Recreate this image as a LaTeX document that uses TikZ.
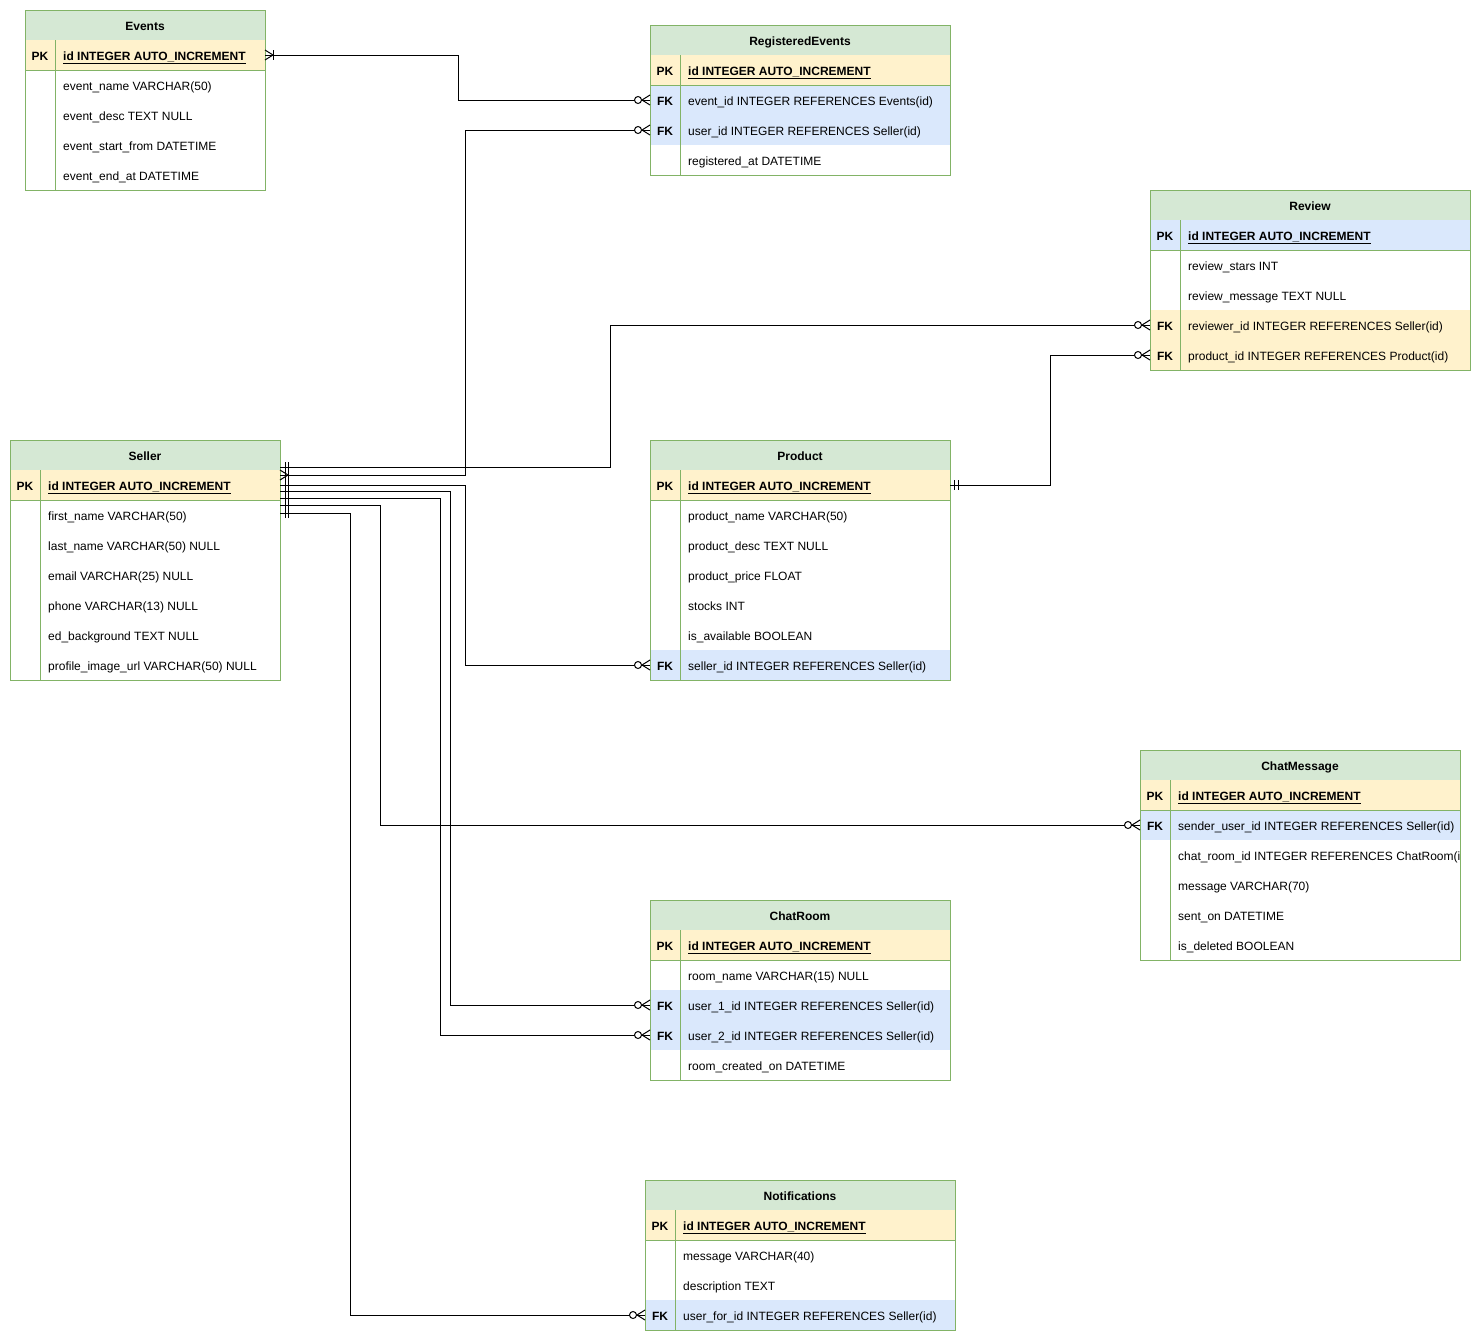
\documentclass[tikz,border=0pt]{standalone}
\usepackage{fontspec}
\setmainfont{Liberation Sans}
\usetikzlibrary{calc}

\definecolor{hdrgreen}{HTML}{D5E8D4}
\definecolor{framegreen}{HTML}{82B366}
\definecolor{pkyellow}{HTML}{FFF2CC}
\definecolor{fkblue}{HTML}{DAE8FC}

\newcommand\erfont{\fontsize{12}{14}\selectfont}

\tikzset{
  rowbox/.style={anchor=north west, minimum height=30pt, inner sep=0pt, outer sep=0pt, draw=none},
  hdrbox/.style={rowbox, fill=hdrgreen},
  hdrtext/.style={inner sep=0pt, font=\erfont\bfseries, text height=8.6pt, text depth=0pt, yshift=-1pt},
  keytext/.style={inner sep=0pt, font=\erfont\bfseries, text height=8.6pt, text depth=0pt, yshift=-1pt},
  fieldtext/.style={anchor=west, inner sep=0pt, font=\erfont, text height=8.6pt, text depth=0pt, yshift=-1pt},
  frame/.style={draw=framegreen, line width=1pt},
  conn/.style={draw=black, line width=1pt},
  cardmark/.style={draw=black, line width=1pt},
  zeromany/.pic={
    \draw[cardmark, fill=white] (-12,0) circle (3.5pt);
    \draw[cardmark] (-8,0) -- (0,5) (-8,0) -- (0,-5);
  },
  crowbar/.pic={
    \draw[cardmark] (0,5) -- (8,0) -- (0,-5);
    \draw[cardmark] (8,-5) -- (8,5);
  },
  crowtoes/.pic={
    \draw[cardmark] (0,5) -- (8,0) -- (0,-5);
  },
  twobars/.pic={
    \draw[cardmark] (5,-5) -- (5,5) (8,-5) -- (8,5);
  },
  twobarsP/.pic={
    \draw[cardmark] (4,-5) -- (4,5) (8,-5) -- (8,5);
  },
}

% table header: name, x, y(top), width, title
\newcommand\erhead[5]{%
  \node[hdrbox, minimum width=#4] (#1) at (#2,#3) {};
  \node[hdrtext] at (#1.center) {#5};}
% table row: name, x, y(top), width, fill, key, text
\newcommand\errow[7]{%
  \node[rowbox, fill=#5, minimum width=#4] (#1) at (#2,#3) {};
  \node[keytext] at ([xshift=15pt]#1.west) {#6};
  \node[fieldtext] at ([xshift=38pt]#1.west) {#7};}
% outline, key column and line under the primary key: x, y(top), y(bottom), width
\newcommand\erframe[4]{%
  \draw[frame] ({#1+30},{#2+30}) -- ({#1+30},#3);
  \draw[frame] (#1,{#2+60}) -- ({#1+#4},{#2+60});
  \draw[frame] (#1,#2) rectangle ({#1+#4},#3);}
\newcommand\pkt[1]{\textbf{\underline{#1}}}

\begin{document}
\begin{tikzpicture}[x=1pt,y=-1pt,font=\erfont]
\useasboundingbox[fill=white] (0,0) rectangle (1481,1341);

% Events
\erhead{ev-h}{25}{10}{240}{Events}
\errow{ev-pk}{25}{40}{240}{pkyellow}{PK}{\pkt{id INTEGER AUTO\_INCREMENT}}
\errow{ev-r1}{25}{70}{240}{white}{}{event\_name VARCHAR(50)}
\errow{ev-r2}{25}{100}{240}{white}{}{event\_desc TEXT NULL}
\errow{ev-r3}{25}{130}{240}{white}{}{event\_start\_from DATETIME}
\errow{ev-r4}{25}{160}{240}{white}{}{event\_end\_at DATETIME}
\erframe{25}{10}{190}{240}

% RegisteredEvents
\erhead{re-h}{650}{25}{300}{RegisteredEvents}
\errow{re-pk}{650}{55}{300}{pkyellow}{PK}{\pkt{id INTEGER AUTO\_INCREMENT}}
\errow{re-event}{650}{85}{300}{fkblue}{FK}{event\_id INTEGER REFERENCES Events(id)}
\errow{re-user}{650}{115}{300}{fkblue}{FK}{user\_id INTEGER REFERENCES Seller(id)}
\errow{re-at}{650}{145}{300}{white}{}{registered\_at DATETIME}
\erframe{650}{25}{175}{300}

% Review
\erhead{rv-h}{1150}{190}{320}{Review}
\errow{rv-pk}{1150}{220}{320}{fkblue}{PK}{\pkt{id INTEGER AUTO\_INCREMENT}}
\errow{rv-stars}{1150}{250}{320}{white}{}{review\_stars INT}
\errow{rv-msg}{1150}{280}{320}{white}{}{review\_message TEXT NULL}
\errow{rv-reviewer}{1150}{310}{320}{pkyellow}{FK}{reviewer\_id INTEGER REFERENCES Seller(id)}
\errow{rv-product}{1150}{340}{320}{pkyellow}{FK}{product\_id INTEGER REFERENCES Product(id)}
\erframe{1150}{190}{370}{320}

% Seller
\erhead{se-h}{10}{440}{270}{Seller}
\errow{se-pk}{10}{470}{270}{pkyellow}{PK}{\pkt{id INTEGER AUTO\_INCREMENT}}
\errow{se-r1}{10}{500}{270}{white}{}{first\_name VARCHAR(50)}
\errow{se-r2}{10}{530}{270}{white}{}{last\_name VARCHAR(50) NULL}
\errow{se-r3}{10}{560}{270}{white}{}{email VARCHAR(25) NULL}
\errow{se-r4}{10}{590}{270}{white}{}{phone VARCHAR(13) NULL}
\errow{se-r5}{10}{620}{270}{white}{}{ed\_background TEXT NULL}
\errow{se-r6}{10}{650}{270}{white}{}{profile\_image\_url VARCHAR(50) NULL}
\erframe{10}{440}{680}{270}

% Product
\erhead{pr-h}{650}{440}{300}{Product}
\errow{pr-pk}{650}{470}{300}{pkyellow}{PK}{\pkt{id INTEGER AUTO\_INCREMENT}}
\errow{pr-r1}{650}{500}{300}{white}{}{product\_name VARCHAR(50)}
\errow{pr-r2}{650}{530}{300}{white}{}{product\_desc TEXT NULL}
\errow{pr-r3}{650}{560}{300}{white}{}{product\_price FLOAT}
\errow{pr-r4}{650}{590}{300}{white}{}{stocks INT}
\errow{pr-r5}{650}{620}{300}{white}{}{is\_available BOOLEAN}
\errow{pr-seller}{650}{650}{300}{fkblue}{FK}{seller\_id INTEGER REFERENCES Seller(id)}
\erframe{650}{440}{680}{300}

% ChatMessage
\erhead{cm-h}{1140}{750}{320}{ChatMessage}
\errow{cm-pk}{1140}{780}{320}{pkyellow}{PK}{\pkt{id INTEGER AUTO\_INCREMENT}}
\errow{cm-sender}{1140}{810}{320}{fkblue}{FK}{sender\_user\_id INTEGER REFERENCES Seller(id)}
\node[rowbox, fill=white, minimum width=320] (cm-room) at (1140,840) {};
\begin{scope}
  \clip (1140,840) rectangle (1460,870);
  \node[fieldtext] at ([xshift=38pt]cm-room.west) {chat\_room\_id INTEGER REFERENCES ChatRoom(id)};
\end{scope}
\errow{cm-msg}{1140}{870}{320}{white}{}{message VARCHAR(70)}
\errow{cm-sent}{1140}{900}{320}{white}{}{sent\_on DATETIME}
\errow{cm-del}{1140}{930}{320}{white}{}{is\_deleted BOOLEAN}
\erframe{1140}{750}{960}{320}

% ChatRoom
\erhead{cr-h}{650}{900}{300}{ChatRoom}
\errow{cr-pk}{650}{930}{300}{pkyellow}{PK}{\pkt{id INTEGER AUTO\_INCREMENT}}
\errow{cr-name}{650}{960}{300}{white}{}{room\_name VARCHAR(15) NULL}
\errow{cr-u1}{650}{990}{300}{fkblue}{FK}{user\_1\_id INTEGER REFERENCES Seller(id)}
\errow{cr-u2}{650}{1020}{300}{fkblue}{FK}{user\_2\_id INTEGER REFERENCES Seller(id)}
\errow{cr-created}{650}{1050}{300}{white}{}{room\_created\_on DATETIME}
\erframe{650}{900}{1080}{300}

% Notifications
\erhead{no-h}{645}{1180}{310}{Notifications}
\errow{no-pk}{645}{1210}{310}{pkyellow}{PK}{\pkt{id INTEGER AUTO\_INCREMENT}}
\errow{no-msg}{645}{1240}{310}{white}{}{message VARCHAR(40)}
\errow{no-desc}{645}{1270}{310}{white}{}{description TEXT}
\errow{no-user}{645}{1300}{310}{fkblue}{FK}{user\_for\_id INTEGER REFERENCES Seller(id)}
\erframe{645}{1180}{1330}{310}

% Relationships
\draw[conn] (ev-pk.east) -- ++(193,0) |- (re-event.west);
\draw[conn] ([yshift=10pt]se-pk.east) -- ++(185,0) |- (re-user.west);
\draw[conn] ([yshift=18pt]se-pk.east) -- ++(330,0) |- (rv-reviewer.west);
\draw[conn] (pr-pk.east) -- ++(100,0) |- (rv-product.west);
\draw[conn] (se-pk.east) -- ++(185,0) |- (pr-seller.west);
\draw[conn] ([yshift=-6pt]se-pk.east) -- ++(170,0) |- (cr-u1.west);
\draw[conn] ([yshift=-13pt]se-pk.east) -- ++(160,0) |- (cr-u2.west);
\draw[conn] ([yshift=-20pt]se-pk.east) -- ++(100,0) |- (cm-sender.west);
\draw[conn] ([yshift=-28pt]se-pk.east) -- ++(70,0) |- (no-user.west);

% Cardinality marks
\pic at (ev-pk.east) {crowbar};
\pic at (re-event.west) {zeromany};
\pic at (re-user.west) {zeromany};
\pic at (rv-reviewer.west) {zeromany};
\pic at (rv-product.west) {zeromany};
\pic at (pr-seller.west) {zeromany};
\pic at (cr-u1.west) {zeromany};
\pic at (cr-u2.west) {zeromany};
\pic at (cm-sender.west) {zeromany};
\pic at (no-user.west) {zeromany};
\pic at (pr-pk.east) {twobarsP};
\pic at ([yshift=10pt]se-pk.east) {crowtoes};
\foreach \dy in {18,10,0,-6,-13,-20,-28}
  \pic at ([yshift=\dy pt]se-pk.east) {twobars};
\end{tikzpicture}
\end{document}
